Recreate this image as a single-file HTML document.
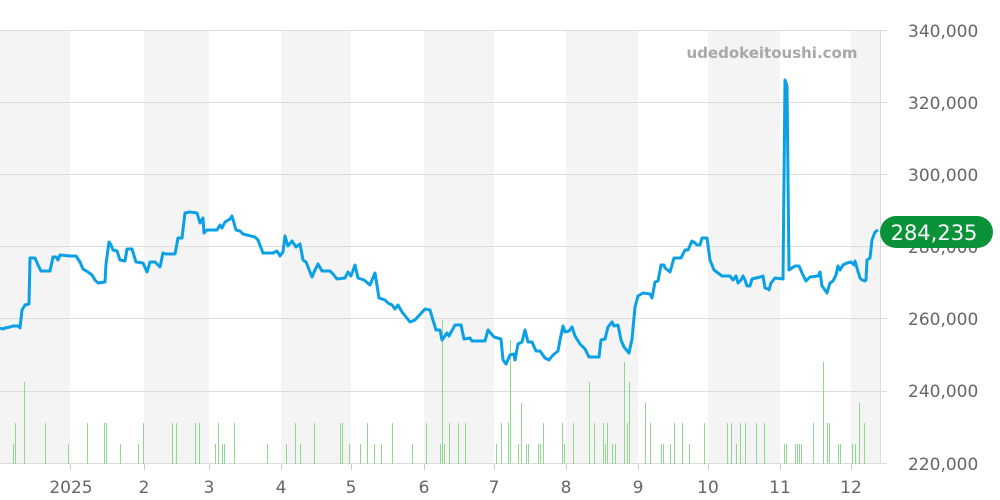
<!DOCTYPE html>
<html><head><meta charset="utf-8"><style>
html,body{margin:0;padding:0;background:#fff;}
svg{display:block;font-family:"DejaVu Sans","Liberation Sans",sans-serif;}
</style></head><body>
<svg width="1000" height="500" viewBox="0 0 1000 500">
<g fill="#f4f4f4">
<rect x="0" y="30" width="70" height="434"/>
<rect x="144" y="30" width="65" height="434"/>
<rect x="281" y="30" width="70" height="434"/>
<rect x="424" y="30" width="70" height="434"/>
<rect x="566" y="30" width="72" height="434"/>
<rect x="708" y="30" width="72" height="434"/>
<rect x="851" y="30" width="29" height="434"/>
</g>
<g stroke="#dcdcdc" stroke-width="1">
<line x1="0" y1="30.5" x2="887" y2="30.5"/>
<line x1="0" y1="102.5" x2="887" y2="102.5"/>
<line x1="0" y1="174.5" x2="887" y2="174.5"/>
<line x1="0" y1="246.5" x2="887" y2="246.5"/>
<line x1="0" y1="318.5" x2="887" y2="318.5"/>
<line x1="0" y1="391.5" x2="887" y2="391.5"/>
<line x1="0" y1="463.5" x2="887" y2="463.5"/>
<line x1="880.5" y1="30" x2="880.5" y2="464"/>
</g>
<g stroke="#ccc"><line x1="70.5" y1="464" x2="70.5" y2="470"/><line x1="144.5" y1="464" x2="144.5" y2="470"/><line x1="209.5" y1="464" x2="209.5" y2="470"/><line x1="281.5" y1="464" x2="281.5" y2="470"/><line x1="351.5" y1="464" x2="351.5" y2="470"/><line x1="424.5" y1="464" x2="424.5" y2="470"/><line x1="494.5" y1="464" x2="494.5" y2="470"/><line x1="566.5" y1="464" x2="566.5" y2="470"/><line x1="638.5" y1="464" x2="638.5" y2="470"/><line x1="708.5" y1="464" x2="708.5" y2="470"/><line x1="780.5" y1="464" x2="780.5" y2="470"/><line x1="851.5" y1="464" x2="851.5" y2="470"/></g>
<text x="772" y="58" font-size="15" font-weight="bold" fill="#a8a8a8" text-anchor="middle">udedokeitoushi.com</text>
<g stroke="#90d890" stroke-width="1" transform="translate(0.5,0)">
<path d="M13 464V444M15 464V423M24 464V382M45 464V423M68 464V444M87 464V423M104 464V423M106 464V423M120 464V444M138 464V444M143 464V423M172 464V423M176 464V423M195 464V423M199 464V423M215 464V444M218 464V423M222 464V444M224 464V444M234 464V423M267 464V444M286 464V444M295 464V423M300 464V444M314 464V423M340 464V423M342 464V423M349 464V444M360 464V444M367 464V423M374 464V444M381 464V444M392 464V423M412 464V444M426 464V423M440 464V444M442 464V320M444 464V444M449 464V423M458 464V423M465 464V423M496 464V444M501 464V423M508 464V423M510 464V340M518 464V444M521 464V403M526 464V444M528 464V444M538 464V444M540 464V444M543 464V423M562 464V423M564 464V444M573 464V423M589 464V382M594 464V423M603 464V423M605 464V444M607 464V423M612 464V444M615 464V444M624 464V362M627 464V423M629 464V382M645 464V403M650 464V423M661 464V444M663 464V444M670 464V444M674 464V423M682 464V423M689 464V444M704 464V423M727 464V423M731 464V423M736 464V444M740 464V423M745 464V423M756 464V423M764 464V423M784 464V444M786 464V444M795 464V444M797 464V444M799 464V444M801 464V444M813 464V423M823 464V362M827 464V423M829 464V423M838 464V444M840 464V444M852 464V444M855 464V444M859 464V403M864 464V423"/>
</g>
<polyline fill="none" stroke="#0aa0e6" stroke-width="3" stroke-linejoin="round" points="0,328 3,329 5,328 10,327 13,326 18,326 20,328 22,310 25,305 29,304 30,258 35,258 38,265 41,271 50,271 53,257 56,257 58,260 60,255 70,256 76,256 80,262 83,269 88,272 92,275 95,280 98,283 105,282 106,264 109,242 111,245 113,250 117,251 120,260 125,261 127,249 132,249 136,262 143,263 147,272 150,262 155,262 160,267 163,253 166,254 175,254 178,238 182,238 185,213 190,212 197,213 200,223 203,218 204,233 207,230 217,230 220,225 222,228 225,222 230,219 232,216 236,230 240,231 243,234 255,237 258,240 263,253 273,253 277,251 280,256 283,252 285,236 288,246 292,241 296,247 300,244 303,260 306,262 312,277 315,270 318,264 322,271 330,271 333,274 337,279 345,278 348,272 351,276 355,265 358,278 364,280 370,285 375,273 379,298 385,300 388,303 392,305 395,309 398,305 402,312 410,322 415,320 425,309 430,310 432,317 436,330 440,330 442,340 447,333 449,336 455,325 461,325 464,339 470,338 472,341 485,341 488,330 494,337 501,339 503,360 506,364 510,355 514,354 515,360 518,344 522,342 525,330 528,342 532,342 536,351 540,351 545,358 549,360 553,355 558,351 560,340 563,326 565,332 569,331 572,327 575,336 580,344 585,349 589,357 599,357 601,340 605,339 608,327 612,322 614,326 618,325 621,340 624,347 629,353 632,339 635,307 638,296 643,293 650,294 652,298 653,293 655,282 658,281 661,265 664,265 665,268 670,272 674,258 681,258 685,250 688,250 692,241 695,243 697,245 700,245 702,238 707,238 710,260 714,270 718,273 722,276 730,276 733,280 736,276 738,283 741,280 743,276 745,280 747,286 750,286 752,279 760,277 763,276 765,288 768,289 769,290 771,283 775,278 783,279 785,80 787,86 789,270 795,266 799,266 803,275 806,281 810,277 818,276 820,272 822,286 825,290 827,293 830,283 833,281 836,275 838,266 840,270 843,265 847,263 851,262 854,265 855,261 857,268 860,278 862,280 865,281 866,280 867,260 870,258 872,240 875,232 878,230"/>
<g font-size="17" fill="#666">
<text x="908" y="37">340,000</text>
<text x="908" y="109">320,000</text>
<text x="908" y="181">300,000</text>
<text x="908" y="253">280,000</text>
<text x="908" y="325">260,000</text>
<text x="908" y="397">240,000</text>
<text x="908" y="470">220,000</text>
</g>
<g font-size="17" fill="#666" text-anchor="middle">
<text x="71" y="493">2025</text><text x="144" y="493">2</text><text x="209" y="493">3</text><text x="281" y="493">4</text><text x="351" y="493">5</text><text x="424" y="493">6</text><text x="494" y="493">7</text><text x="566" y="493">8</text><text x="638" y="493">9</text><text x="708" y="493">10</text><text x="780" y="493">11</text><text x="851" y="493">12</text>
</g>
<rect x="880" y="216" width="113" height="32" rx="16" fill="#0a9238"/>
<text x="934" y="240" font-size="21" fill="#fff" text-anchor="middle">284,235</text>
</svg>
</body></html>
